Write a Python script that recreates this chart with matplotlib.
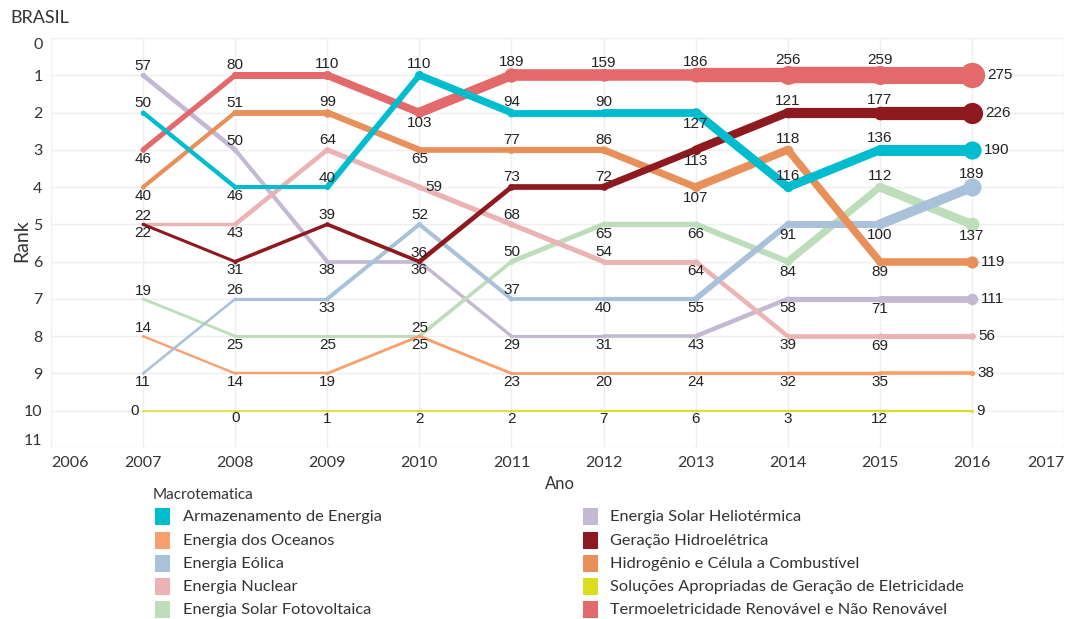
import matplotlib
matplotlib.use("Agg")
import matplotlib.pyplot as plt
from matplotlib.patches import Rectangle

years = [2007, 2008, 2009, 2010, 2011, 2012, 2013, 2014, 2015, 2016]

series_names = [
    "Armazenamento de Energia",
    "Energia dos Oceanos",
    "Energia Eólica",
    "Energia Nuclear",
    "Energia Solar Fotovoltaica",
    "Energia Solar Heliotérmica",
    "Geração Hidroelétrica",
    "Hidrogênio e Célula a Combustível",
    "Soluções Apropriadas de Geração de Eletricidade",
    "Termoeletricidade Renovável e Não Renovável",
]

# rank per year
armaz_rank = [2, 4, 4, 1, 2, 2, 2, 4, 3, 3]
oceanos_rank = [8, 9, 9, 8, 9, 9, 9, 9, 9, 9]
eolica_rank = [9, 7, 7, 5, 7, 7, 7, 5, 5, 4]
nuclear_rank = [5, 5, 3, 4, 5, 6, 6, 8, 8, 8]
foto_rank = [7, 8, 8, 8, 6, 5, 5, 6, 4, 5]
helio_rank = [1, 3, 6, 6, 8, 8, 8, 7, 7, 7]
hidro_rank = [5, 6, 5, 6, 4, 4, 3, 2, 2, 2]
hidrog_rank = [4, 2, 2, 3, 3, 3, 4, 3, 6, 6]
solucoes_rank = [10, 10, 10, 10, 10, 10, 10, 10, 10, 10]
termo_rank = [3, 1, 1, 2, 1, 1, 1, 1, 1, 1]

# document counts per year
armaz_count = [50, 46, 40, 110, 94, 90, 127, 116, 136, 190]
oceanos_count = [14, 14, 19, 25, 23, 20, 24, 32, 35, 38]
eolica_count = [11, 26, 33, 52, 37, 40, 55, 91, 100, 189]
nuclear_count = [22, 43, 64, 59, 68, 54, 64, 39, 69, 56]
foto_count = [19, 25, 25, 25, 50, 65, 66, 84, 112, 137]
helio_count = [57, 50, 38, 36, 29, 31, 43, 58, 71, 111]
hidro_count = [22, 31, 39, 36, 73, 72, 113, 121, 177, 226]
hidrog_count = [40, 51, 99, 65, 77, 86, 107, 118, 89, 119]
solucoes_count = [0, 0, 1, 2, 2, 7, 6, 3, 12, 9]
termo_count = [46, 80, 110, 103, 189, 159, 186, 256, 259, 275]

ranks = [armaz_rank, oceanos_rank, eolica_rank, nuclear_rank, foto_rank,
         helio_rank, hidro_rank, hidrog_rank, solucoes_rank, termo_rank]
counts = [armaz_count, oceanos_count, eolica_count, nuclear_count, foto_count,
          helio_count, hidro_count, hidrog_count, solucoes_count, termo_count]

colors = ["#00BCCF", "#F99F6E", "#A9C1D9", "#EBB3B3", "#BEDDBA",
          "#C3B9D2", "#8E1A1F", "#E98F5A", "#DADE1F", "#E4696B"]

# label placement: a = above, b = below, r = right, l = left
label_pos = [
    "abaaaabaar",
    "abbbbbbbbr",
    "babaabbbba",
    "abaraabbbr",
    "abbaabbbab",
    "aabbbbbbbr",
    "bbaaaabaar",
    "baabaababr",
    "lbbbbbbbbr",
    "baabaaaaar",
]

PX = 72 / 100  # points per pixel


def width_px(c):
    return 1.5 + 0.058 * c


fig = plt.figure(figsize=(10.69, 6.19), dpi=100)
ax = fig.add_axes([51 / 1069, 1 - 448 / 619, (1064 - 51) / 1069, (448 - 38) / 619])

order = [5, 4, 3, 1, 2, 8, 7, 6, 9, 0]
for z, i in enumerate(order):
    r, c, col = ranks[i], counts[i], colors[i]
    for k in range(len(years) - 1):
        w = width_px((c[k] + c[k + 1]) / 2) * PX
        ax.plot(years[k:k + 2], r[k:k + 2], color=col, lw=w,
                solid_capstyle="round", zorder=3 + z)
    for k in range(len(years)):
        w = width_px(c[k]) * PX
        ms = w * (1.45 if k == len(years) - 1 else 1.15)
        ax.plot(years[k], r[k], "o", color=col, ms=ms, mew=0, zorder=3 + z)

for i in range(len(series_names)):
    r, c = ranks[i], counts[i]
    for k in range(len(years)):
        p = label_pos[i][k]
        half = width_px(c[k]) / 2
        if p == "a":
            off, ha = (0, (7 + half) * PX), "center"
        elif p == "b":
            off, ha = (0, -(7 + half) * PX), "center"
        elif p == "r":
            off, ha = ((half * 1.4 + 3) * PX, 0), "left"
        else:
            off, ha = (-4 * PX, 0), "right"
        ax.annotate(str(c[k]), (years[k], r[k]), xytext=off, textcoords="offset points",
                    ha=ha, va="center", fontsize=11, color="#222222",
                    family="Liberation Sans", zorder=20)

ax.set_xlim(2006, 2017)
ax.set_ylim(11, 0)
ax.set_xticks(range(2006, 2018))
ax.set_yticks(range(0, 12))
ax.grid(True, color="#EFEFEF", lw=1)
ax.set_axisbelow(True)
for s in ax.spines.values():
    s.set_visible(False)
ax.tick_params(length=0, labelsize=11.5, colors="#333333", pad=6)
for lab in ax.get_xticklabels():
    lab.set_family("Lato")
for lab in ax.get_yticklabels():
    lab.set_family("Lato")
xl = ax.get_xticklabels()
xl[0].set_ha("left")
xl[-1].set_ha("right")
yl = ax.get_yticklabels()
yl[0].set_va("top")
yl[-1].set_va("bottom")

fig.text(10 / 1069, 1 - 18 / 619, "BRASIL", fontsize=13, family="Lato",
         color="#333333", va="center", ha="left")
fig.text(22 / 1069, 1 - 241 / 619, "Rank", fontsize=14, family="Lato",
         color="#333333", va="center", ha="center", rotation=90)
fig.text(560 / 1069, 1 - 484 / 619, "Ano", fontsize=12, family="Lato",
         color="#333333", va="center", ha="center")

# legend
fig.text(153 / 1069, 1 - 495 / 619, "Macrotematica", fontsize=11, family="Lato",
         color="#333333", va="center", ha="left")
row_y = [517, 541, 564, 587, 610]
for i, name in enumerate(series_names):
    col_i, row_i = divmod(i, 5)
    sx = 155 if col_i == 0 else 583
    tx = 183 if col_i == 0 else 610
    y = row_y[row_i]
    fig.add_artist(Rectangle((sx / 1069, 1 - (y + 8) / 619), 15 / 1069, 17 / 619,
                             transform=fig.transFigure, color=colors[i], lw=0))
    fig.text(tx / 1069, 1 - y / 619, name, fontsize=11.8, family="Lato",
             color="#333333", va="center", ha="left")

fig.savefig("out.png", dpi=100)
